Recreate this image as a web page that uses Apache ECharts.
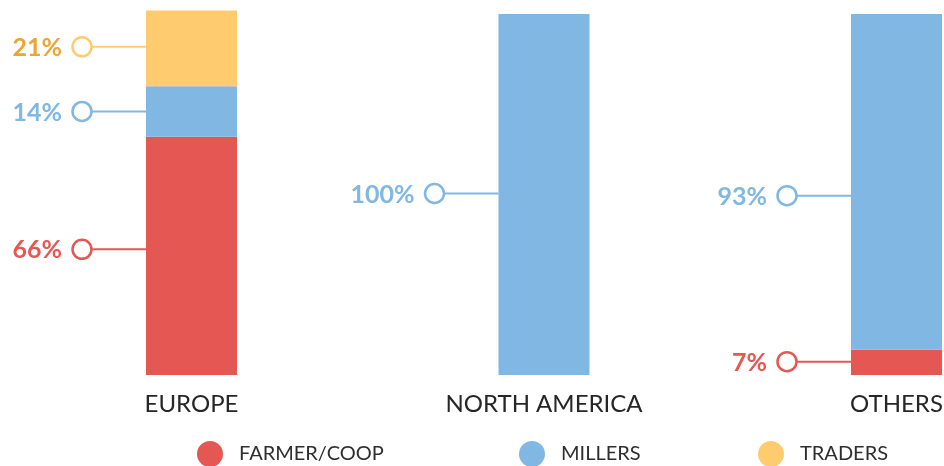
<!DOCTYPE html>
<html>
<head>
<meta charset="utf-8">
<script src="https://cdn.jsdelivr.net/npm/echarts@6/dist/echarts.min.js"></script>
<style>html,body{margin:0;padding:0;background:#fff}#c{width:944px;height:466px}</style>
</head>
<body>
<div id="c"></div>
<script>
var categories = ['EUROPE', 'NORTH AMERICA', 'OTHERS'];
var seriesNames = ['FARMER/COOP', 'MILLERS', 'TRADERS'];
var farmer = [66, 0, 7];
var millers = [14, 100, 93];
var traders = [21, 0, 0];

// styling
var barColors = ['#E55753', '#80B7E3', '#FECC6E'];
var textColors = ['#E55753', '#80B7E3', '#EDA432'];
// pixel nudges for label anchors [series][category]
var nudge = [[-6.5, 0, -0.7], [0, -1, 13.8], [-1.5, 0, 0]];

var values = [farmer, millers, traders];
var labelData = [];
for (var c = 0; c < categories.length; c++) {
  var base = 0;
  for (var s = 0; s < values.length; s++) {
    var v = values[s][c];
    if (v > 0) {
      labelData.push({ value: [c, base + v / 2, s, v] });
    }
    base += v;
  }
}

var chart = echarts.init(document.getElementById('c'));
var FONT = 'Lato, "Open Sans", sans-serif';

var barSeries = seriesNames.map(function (n, i) {
  return {
    name: n, type: 'bar', stack: 'total', barWidth: 91,
    data: values[i], itemStyle: { color: barColors[i] },
    emphasis: { disabled: true }, silent: true
  };
});

barSeries.push({
  type: 'custom', silent: true, z: 5, clip: false,
  data: labelData,
  renderItem: function (params, api) {
    var cat = api.value(0), val = api.value(1), s = api.value(2), v = api.value(3);
    var pt = api.coord([cat, val]);
    var y = pt[1] + nudge[s][cat];
    var barLeft = pt[0] - 45.5;
    var cx = barLeft - 64;
    var r = 9.5;
    var lineColor = barColors[s];
    return {
      type: 'group',
      children: [
        { type: 'line', shape: { x1: cx + r, y1: y, x2: barLeft, y2: y }, style: { stroke: lineColor, lineWidth: 2 } },
        { type: 'circle', shape: { cx: cx, cy: y, r: r }, style: { fill: '#fff', stroke: lineColor, lineWidth: 2.5 } },
        { type: 'text', x: cx - 20, y: y + 1, style: { text: v + '%', fill: textColors[s], font: '700 25px ' + FONT, align: 'right', verticalAlign: 'middle' } }
      ]
    };
  }
});

function mkLegend(i, left) {
  return {
    data: [seriesNames[i]], left: left, top: 441, icon: 'circle', padding: 0,
    itemWidth: 26, itemHeight: 26, selectedMode: false,
    textStyle: { fontSize: 20, color: '#2e2e2e', fontFamily: FONT, padding: [0, 0, 0, 11] }
  };
}

chart.setOption({
  animation: false,
  legend: [mkLegend(0, 197), mkLegend(1, 519), mkLegend(2, 758)],
  grid: { left: 15.25, width: 1057.5, top: 10.39, bottom: 91, containLabel: false, outerBoundsMode: 'none' },
  xAxis: {
    type: 'category', data: categories,
    axisLine: { show: false }, axisTick: { show: false },
    axisLabel: { fontSize: 24, color: '#262626', fontFamily: FONT, margin: 17, interval: 0 }
  },
  yAxis: { type: 'value', min: 0, max: 101, show: false, splitLine: { show: false } },
  series: barSeries
});
</script>
</body>
</html>
